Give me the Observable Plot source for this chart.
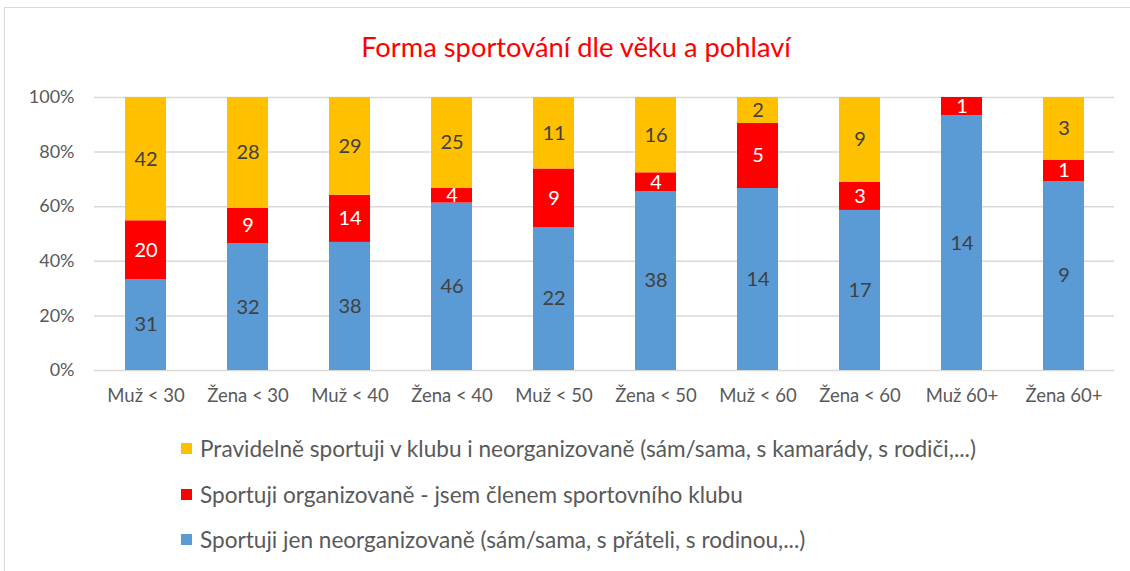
<!DOCTYPE html>
<html>
<head>
<meta charset="utf-8">
<script src="https://cdn.jsdelivr.net/npm/d3@7"></script>
<script src="https://cdn.jsdelivr.net/npm/@observablehq/plot@0.6"></script>
<style>
  html, body { margin: 0; padding: 0; background: #fff; }
  #wrap { position: relative; width: 1130px; height: 571px; overflow: hidden; font-family: Lato, "Open Sans", sans-serif; }
  #frame { position: absolute; left: 4px; top: 7px; width: 1140px; height: 580px; border: 1px solid #d9d9d9; box-sizing: border-box; }
  #title { position: absolute; left: 0; width: 1152px; top: 29px; text-align: center; color: #ff0000; font-size: 27.3px; line-height: 36px; }
  #chart { position: absolute; left: 0; top: 0; }
  #legend { position: absolute; left: 181px; top: 426px; color: #595959; font-size: 22.6px; }
  .li { display: flex; align-items: center; height: 45.5px; }
  .sw { width: 11px; height: 11px; margin-right: 8px; flex: none; }
</style>
</head>
<body>
<div id="wrap">
  <div id="frame"></div>
  <div id="chart"></div>
  <div id="title">Forma sportování dle věku a pohlaví</div>
  <div id="legend"></div>
</div>
<script>
const categories = ["Muž < 30", "Žena < 30", "Muž < 40", "Žena < 40", "Muž < 50", "Žena < 50", "Muž < 60", "Žena < 60", "Muž 60+", "Žena 60+"];
const seriesNames = [
  "Sportuji jen neorganizovaně (sám/sama, s přáteli, s rodinou,...)",
  "Sportuji organizovaně - jsem členem sportovního klubu",
  "Pravidelně sportuji v klubu i neorganizovaně (sám/sama, s kamarády, s rodiči,...)"
];
const seriesColors = ["#5b9bd5", "#ff0000", "#ffc000"];
const labelColors = ["#404040", "#ffffff", "#404040"];
const neorganizovane = [31, 32, 38, 46, 22, 38, 14, 17, 14, 9];
const organizovane = [20, 9, 14, 4, 9, 4, 5, 3, 1, 1];
const obojí = [42, 28, 29, 25, 11, 16, 2, 9, 0, 3];
const yTicks = [0, 0.2, 0.4, 0.6, 0.8, 1];

const seriesValues = [neorganizovane, organizovane, obojí];
const data = [];
categories.forEach((c, i) => {
  seriesValues.forEach((vals, s) => {
    data.push({cat: c, series: seriesNames[s], s, value: vals[i]});
  });
});

const stackOpts = {x: "cat", y: "value", z: "series", offset: "normalize"};

const chart = Plot.plot({
  width: 1130,
  height: 420,
  marginTop: 97,
  marginBottom: 50,
  marginLeft: 94,
  marginRight: 16,
  style: {fontFamily: "Lato, 'Open Sans', sans-serif", background: "transparent"},
  x: {domain: categories, paddingInner: 0.6, paddingOuter: 0.3, label: null},
  y: {domain: [0, 1], label: null},
  color: {domain: seriesNames, range: seriesColors},
  marks: [
    Plot.ruleY(yTicks, {stroke: "#d9d9d9", strokeWidth: 1.5}),
    Plot.barY(data, Plot.stackY({...stackOpts, fill: "series"})),
    Plot.text(data, Plot.stackY({...stackOpts,
      text: d => d.value > 0 ? String(d.value) : "",
      fill: d => labelColors[d.s], fontSize: 20})),
    Plot.axisY(yTicks, {tickFormat: d => Math.round(d * 100) + "%", tickSize: 0, tickPadding: 20, fontSize: 18, color: "#595959"}),
    Plot.axisX({tickSize: 0, tickPadding: 18, fontSize: 18.5, color: "#595959"})
  ]
});
document.getElementById("chart").appendChild(chart);

const legend = document.getElementById("legend");
[2, 1, 0].forEach(s => {
  const row = document.createElement("div");
  row.className = "li";
  const sw = document.createElement("div");
  sw.className = "sw";
  sw.style.background = seriesColors[s];
  const t = document.createElement("span");
  t.textContent = seriesNames[s];
  row.appendChild(sw);
  row.appendChild(t);
  legend.appendChild(row);
});
</script>
</body>
</html>
